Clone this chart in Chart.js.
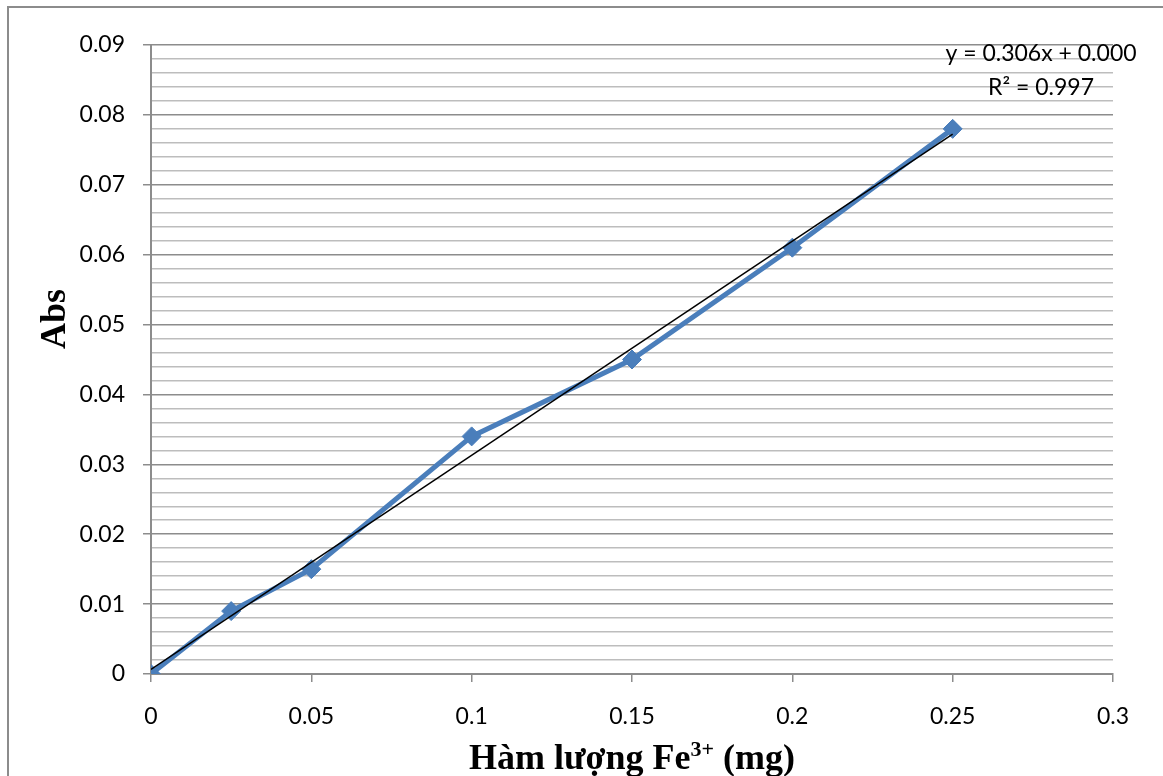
<!DOCTYPE html>
<html>
<head>
<meta charset="utf-8">
<script src="https://cdn.jsdelivr.net/npm/chart.js@4.4.1/dist/chart.umd.min.js"></script>
<style>
  html, body { margin: 0; padding: 0; background: #fff; overflow: hidden; }
  #wrap { position: relative; width: 1163px; height: 776px; }
  #frame { position: absolute; left: 7px; top: 6px; width: 1300px; height: 900px;
           border: 2px solid #8c8c8c; box-sizing: border-box; pointer-events: none; }
</style>
</head>
<body>
<div id="wrap">
  <canvas id="chart" width="1163" height="776"></canvas>
  <div id="frame"></div>
</div>
<script>
// Hàm lượng Fe3+ (mg) và độ hấp thụ đo được
const feMg = [0, 0.025, 0.05, 0.1, 0.15, 0.2, 0.25];
const absValues = [0, 0.009, 0.015, 0.034, 0.045, 0.061, 0.078];

const equationLabel = 'y = 0.306x + 0.000';
const r2Label = 'R² = 0.997';
const yTitle = 'Abs';
const xTitleParts = ['Hàm lượng Fe', '3+', ' (mg)'];

// hồi quy tuyến tính (đường xu hướng như Excel)
function linearFit(xs, ys) {
    const n = xs.length;
    const mx = xs.reduce((a, b) => a + b, 0) / n;
    const my = ys.reduce((a, b) => a + b, 0) / n;
    let sxy = 0, sxx = 0;
    for (let i = 0; i < n; i++) {
        sxy += (xs[i] - mx) * (ys[i] - my);
        sxx += (xs[i] - mx) * (xs[i] - mx);
    }
    const slope = sxy / sxx;
    return { slope: slope, intercept: my - slope * mx };
}

const fit = linearFit(feMg, absValues);
const xFirst = feMg[0];
const xLast = feMg[feMg.length - 1];
const trendPoints = [
    { x: xFirst, y: fit.slope * xFirst + fit.intercept },
    { x: xLast, y: fit.slope * xLast + fit.intercept }
];

const MAJOR = '#8c8c8c';
const MINOR = '#bdbdbd';
const BLUE = '#4a7ebb';
const TICK_FONT = { family: 'Lato, "Open Sans", sans-serif', size: 23 };

function isMajor(value) {
    return Math.round(value * 1000) % 10 === 0;
}

// vẽ phương trình, tiêu đề trục y và trục x (có chỉ số trên)
const textPlugin = {
    id: 'textPlugin',
    afterDraw(chart) {
        const ctx = chart.ctx;
        const area = chart.chartArea;
        ctx.save();
        ctx.fillStyle = '#000';
        ctx.font = '23px Lato, "Open Sans", sans-serif';
        ctx.textAlign = 'center';
        ctx.textBaseline = 'middle';
        ctx.fillText(equationLabel, 1041, 54);
        ctx.fillText(r2Label, 1041, 88);

        const big = 'bold 36px "Liberation Serif", "Times New Roman", serif';
        const small = 'bold 22px "Liberation Serif", "Times New Roman", serif';

        // tiêu đề trục y
        ctx.save();
        ctx.translate(65, 319);
        ctx.rotate(-Math.PI / 2);
        ctx.font = big;
        ctx.textAlign = 'center';
        ctx.textBaseline = 'alphabetic';
        ctx.fillText(yTitle, 0, 0);
        ctx.restore();

        // tiêu đề trục x
        ctx.textAlign = 'left';
        ctx.textBaseline = 'alphabetic';
        ctx.font = big;
        const w1 = ctx.measureText(xTitleParts[0]).width;
        const w3 = ctx.measureText(xTitleParts[2]).width;
        ctx.font = small;
        const w2 = ctx.measureText(xTitleParts[1]).width;
        const total = w1 + w2 + w3;
        let x = (area.left + area.right) / 2 - total / 2;
        const base = 769;
        ctx.font = big;
        ctx.fillText(xTitleParts[0], x, base);
        x += w1;
        ctx.font = small;
        ctx.fillText(xTitleParts[1], x, base - 13);
        x += w2;
        ctx.font = big;
        ctx.fillText(xTitleParts[2], x, base);
        ctx.restore();
    }
};

const ctx = document.getElementById('chart').getContext('2d');
const myChart = new Chart(ctx, {
    type: 'scatter',
    data: {
        datasets: [
            {
                label: 'Trendline',
                data: trendPoints,
                showLine: true,
                borderColor: '#000',
                borderWidth: 1.5,
                pointRadius: 0,
                fill: false
            },
            {
                label: 'Abs',
                data: feMg.map((x, i) => ({ x: x, y: absValues[i] })),
                showLine: true,
                borderColor: BLUE,
                backgroundColor: BLUE,
                borderWidth: 5,
                pointStyle: 'rectRot',
                pointRadius: 9.5,
                pointBorderWidth: 1,
                tension: 0,
                fill: false
            }
        ]
    },
    options: {
        responsive: false,
        animation: false,
        events: [],
        layout: { padding: { left: 0, top: 45, right: 50, bottom: 0 } },
        plugins: {
            legend: { display: false },
            tooltip: { enabled: false }
        },
        scales: {
            x: {
                type: 'linear',
                min: 0,
                max: 0.3,
                afterFit: (scale) => { scale.height = 102; },
                ticks: {
                    stepSize: 0.05,
                    color: '#000',
                    padding: 21,
                    font: TICK_FONT,
                    callback: (v) => parseFloat(v.toFixed(2)).toString()
                },
                grid: {
                    drawOnChartArea: false,
                    color: MAJOR,
                    tickLength: 8,
                    lineWidth: 1.5
                },
                border: { color: MAJOR, width: 2 }
            },
            y: {
                type: 'linear',
                min: 0,
                max: 0.09,
                afterFit: (scale) => { scale.width = 151; },
                ticks: {
                    stepSize: 0.002,
                    autoSkip: false,
                    color: '#000',
                    padding: 18,
                    font: TICK_FONT,
                    callback: (v) => isMajor(v) ? (Math.round(v * 1000) / 1000).toString() : ''
                },
                grid: {
                    color: (c) => isMajor(c.tick.value) ? MAJOR : MINOR,
                    tickColor: (c) => isMajor(c.tick.value) ? MAJOR : 'rgba(0,0,0,0)',
                    tickLength: 8,
                    lineWidth: 1.5
                },
                border: { color: MAJOR, width: 2 }
            }
        }
    },
    plugins: [textPlugin]
});
</script>
</body>
</html>
